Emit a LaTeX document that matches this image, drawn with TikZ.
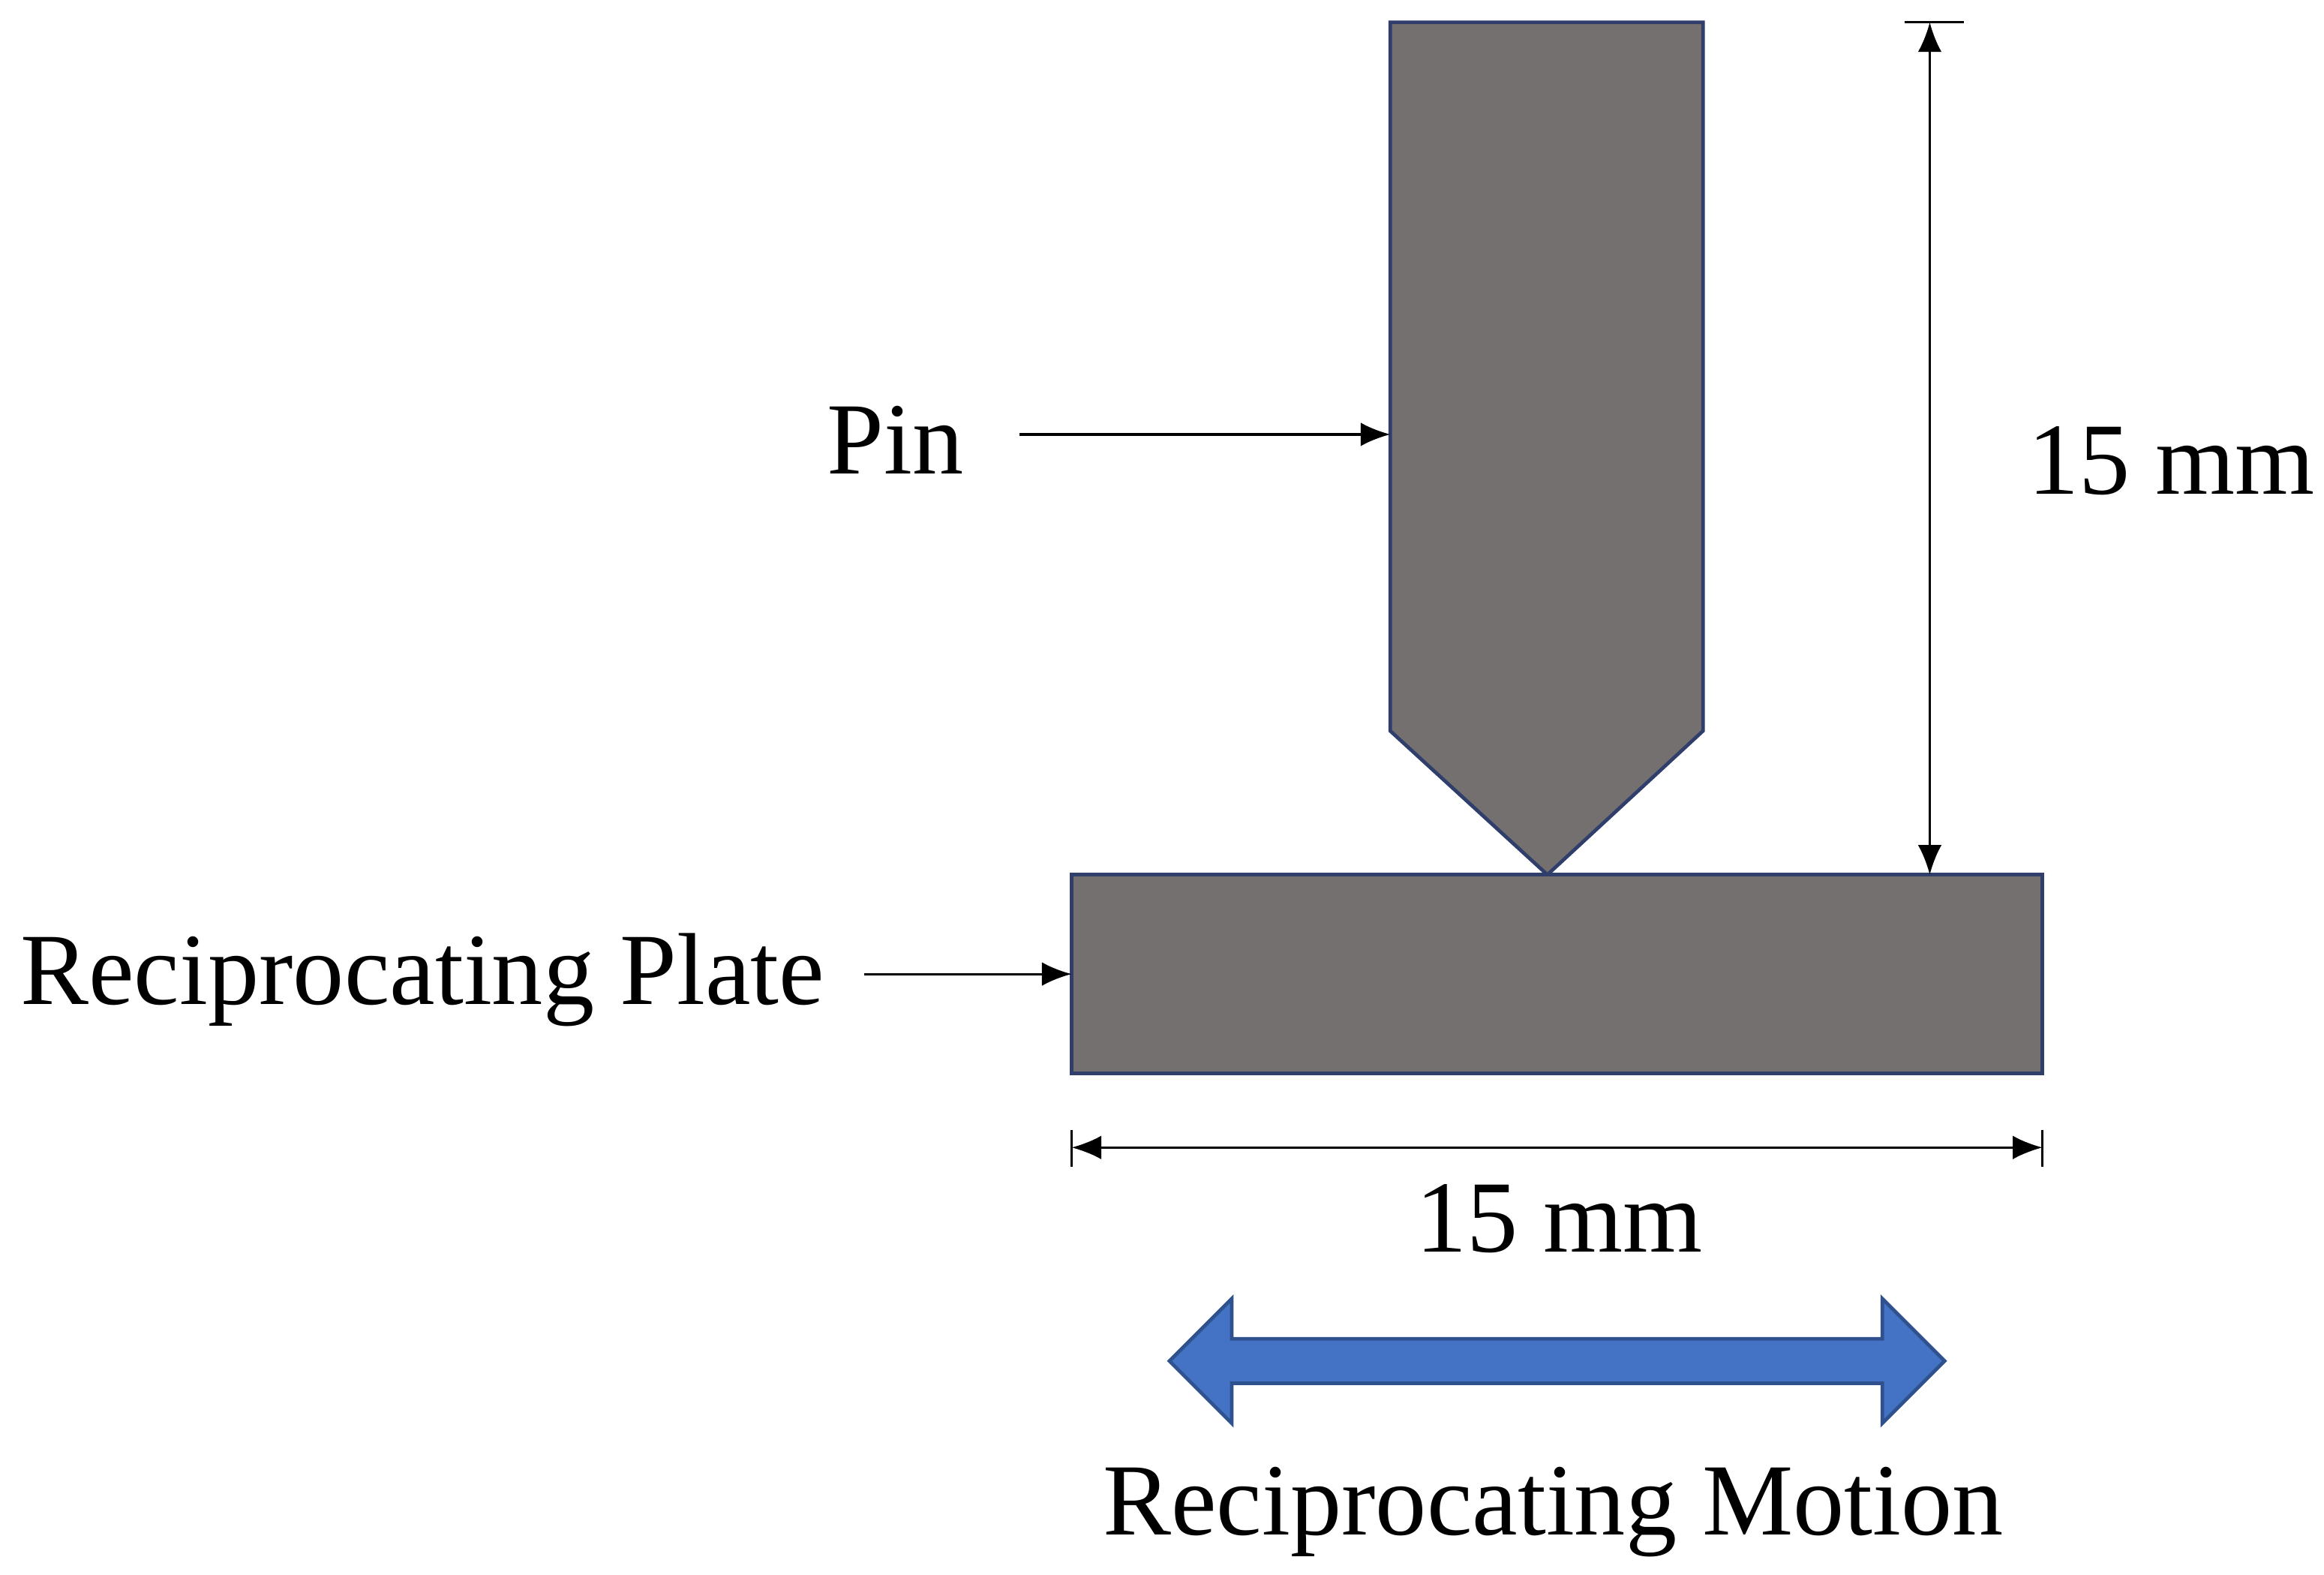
\documentclass[tikz,border=0pt]{standalone}
\usepackage{fontspec}
\setmainfont{Liberation Serif}
\usetikzlibrary{arrows.meta}
\definecolor{metal}{HTML}{757070}
\definecolor{edge}{HTML}{2F3E6B}
\definecolor{blu}{HTML}{4472C4}
\definecolor{blued}{HTML}{2F528F}
\begin{document}
\begin{tikzpicture}[x=0.5pt,y=-0.5pt,
  part/.style={fill=metal,draw=edge,line width=1.2pt},
  lbl/.style={font=\fontsize{34.5}{38}\selectfont,inner sep=0},
  ptr/.style={-{Latex[length=10pt,width=8pt]},line width=0.8pt},
  dim/.style={{Latex[length=10pt,width=8pt]}-{Latex[length=10pt,width=8pt]},line width=0.8pt},
  tick/.style={line width=0.8pt}]
\useasboundingbox (0,0) rectangle (1568,1062);
\draw[part] (938,15) -- (1149,15) -- (1149,493) -- (1044,590) -- (938,493) -- cycle;
\draw[part] (723,590) rectangle (1378,724);
\coordinate (plateW) at (723,657);
\coordinate (pinL) at (938,293);
\node[lbl] (pin) at (604,297) {Pin};
\draw[ptr] (688,293) -- (pinL);
\node[lbl] (rp) at (285,661) {Reciprocating Plate};
\draw[ptr] (583,657) -- (plateW);
% vertical dimension
\coordinate (vt) at (1302,15); \coordinate (vb) at (1302,590);
\draw[tick] (1285,15) -- (1325,15);
\draw[dim] (vt) -- (vb);
\node[lbl] (d1) at (1465,311) {15 mm};
% horizontal dimension
\coordinate (hl) at (723,774); \coordinate (hr) at (1378,774);
\draw[tick] (723,762) -- (723,787); \draw[tick] (1378,762) -- (1378,787);
\draw[dim] (hl) -- (hr);
\node[lbl] (d2) at (1052,822) {15 mm};
% blue double arrow
\draw[fill=blu,draw=blued,line width=1.2pt] (789,918) -- (831,876) -- (831,903) -- (1270,903) -- (1270,876) -- (1312,918) -- (1270,960) -- (1270,933) -- (831,933) -- (831,960) -- cycle;
\node[lbl] (rm) at (1048,1020) {Reciprocating Motion};
\end{tikzpicture}
\end{document}
